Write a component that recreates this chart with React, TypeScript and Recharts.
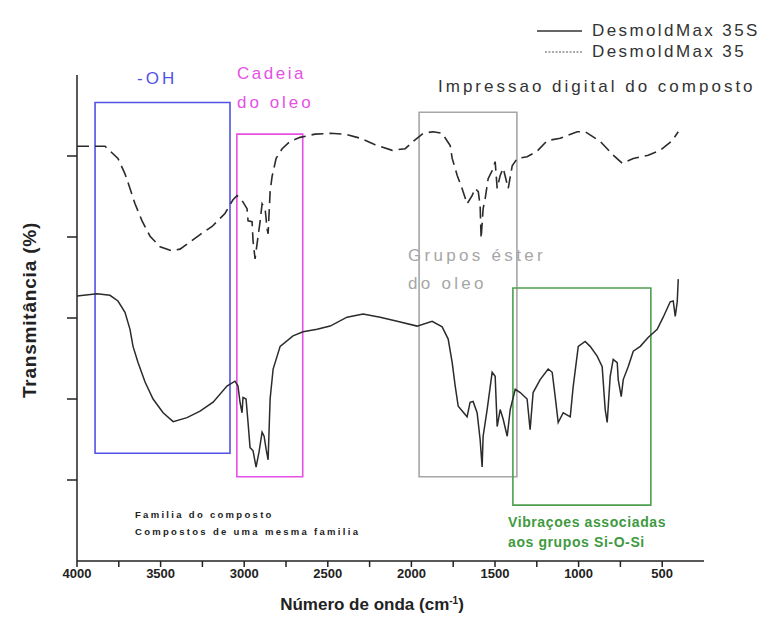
import { LineChart, Line, XAxis, YAxis, ReferenceArea } from "recharts";

const SERIES_35S = "DesmoldMax 35S";
const SERIES_35 = "DesmoldMax 35";

// DesmoldMax 35S (solid, lower trace)
const wavenumber35S = [4000, 3880, 3803, 3755, 3713, 3683, 3665, 3635, 3593, 3545, 3485, 3425, 3342, 3264, 3186, 3103, 3055, 3037, 3025, 3013, 3007, 2989, 2977, 2965, 2947, 2929, 2911, 2893, 2881, 2869, 2857, 2845, 2827, 2785, 2708, 2648, 2564, 2486, 2385, 2289, 2187, 2085, 1966, 1876, 1816, 1780, 1756, 1738, 1720, 1667, 1649, 1631, 1607, 1589, 1577, 1571, 1547, 1517, 1499, 1487, 1469, 1451, 1427, 1409, 1379, 1349, 1308, 1290, 1272, 1230, 1182, 1158, 1140, 1122, 1092, 1050, 1032, 1002, 961, 931, 889, 859, 841, 829, 811, 793, 769, 763, 745, 733, 703, 673, 631, 584, 530, 494, 452, 434, 422, 410, 404];
const transmittance35S = [32.7, 33.0, 32.8, 32.1, 30.7, 28.6, 26.5, 24.5, 22.1, 20.0, 18.3, 17.2, 17.7, 18.5, 19.6, 21.6, 22.2, 21.6, 19.6, 18.3, 20.2, 20.0, 17.1, 14.0, 13.6, 11.6, 13.5, 15.9, 15.4, 13.8, 12.5, 20.0, 23.7, 26.5, 27.8, 28.3, 28.6, 29.0, 30.1, 30.5, 30.1, 29.6, 29.0, 29.6, 28.9, 27.4, 24.5, 21.6, 19.1, 17.8, 19.6, 19.7, 18.3, 15.0, 11.6, 15.4, 18.7, 23.3, 22.8, 16.6, 18.7, 17.5, 15.4, 18.7, 21.2, 20.8, 20.0, 16.2, 20.8, 22.4, 23.7, 23.3, 20.3, 17.1, 18.3, 17.8, 21.6, 26.5, 27.1, 26.5, 25.3, 24.0, 18.7, 17.1, 22.8, 24.9, 24.5, 22.4, 20.3, 22.4, 24.0, 25.9, 26.5, 27.6, 28.6, 30.1, 32.0, 32.1, 30.2, 32.0, 34.8];

// DesmoldMax 35 (dashed, upper trace)
const wavenumber35 = [4000, 3832, 3755, 3713, 3683, 3653, 3611, 3563, 3503, 3432, 3384, 3324, 3264, 3192, 3115, 3067, 3043, 3013, 2983, 2977, 2953, 2947, 2935, 2917, 2905, 2893, 2875, 2863, 2857, 2845, 2833, 2809, 2773, 2726, 2666, 2576, 2486, 2397, 2307, 2217, 2115, 2037, 1990, 1930, 1870, 1816, 1768, 1756, 1726, 1697, 1667, 1637, 1619, 1600, 1589, 1583, 1571, 1559, 1541, 1517, 1499, 1487, 1469, 1451, 1421, 1397, 1367, 1308, 1248, 1188, 1110, 1008, 961, 871, 793, 739, 673, 584, 512, 440, 404];
const transmittance35 = [51.2, 51.2, 49.7, 47.8, 46.0, 44.1, 42.0, 40.1, 38.8, 38.3, 38.5, 39.4, 40.3, 41.3, 42.9, 44.6, 45.1, 44.5, 43.5, 42.0, 41.9, 39.5, 37.3, 40.1, 41.9, 44.1, 43.5, 41.0, 40.4, 45.6, 47.5, 49.7, 50.9, 51.8, 52.3, 52.7, 52.8, 52.7, 52.2, 51.4, 50.7, 50.9, 51.8, 52.8, 53.0, 52.8, 51.3, 49.7, 47.6, 46.0, 44.1, 45.1, 46.0, 45.6, 43.9, 39.8, 43.5, 44.7, 47.2, 48.2, 49.3, 46.0, 47.6, 48.5, 46.0, 48.8, 49.7, 49.9, 50.6, 51.9, 52.2, 53.0, 53.0, 51.8, 50.1, 49.1, 49.7, 50.1, 50.7, 51.9, 53.0];

const xTicks = [4000, 3750, 3500, 3250, 3000, 2750, 2500, 2250, 2000, 1750, 1500, 1250, 1000, 750, 500];
const yTicks = [10, 20, 30, 40, 50];

// highlighted regions: [wavenumber start, wavenumber end, T low, T high]
const regionOH = [3892, 3085, 13.3, 56.6];
const regionChain = [3044, 2650, 10.4, 52.7];
const regionEster = [1954, 1369, 10.4, 55.4];
const regionSiOSi = [1393, 568, 6.9, 33.7];

const FONT = '"Liberation Sans", Arial, sans-serif';

const toRows = (xs: number[], ys: number[]) =>
  xs.slice(0, Math.min(xs.length, ys.length)).map((wn, i) => ({ wn, t: ys[i] }));

const data35S = toRows(wavenumber35S, transmittance35S);
const data35 = toRows(wavenumber35, transmittance35);

function Note({ x, y, color = "#333", size = 17, weight = 400, spacing = 0, children }: any) {
  return (
    <div
      style={{
        position: "absolute",
        left: x,
        top: y,
        transform: "translateY(-50%)",
        color,
        fontSize: size,
        fontWeight: weight,
        letterSpacing: spacing,
        fontFamily: FONT,
        whiteSpace: "nowrap",
        lineHeight: 1,
      }}
    >
      {children}
    </div>
  );
}

export default function App() {
  const areas = [
    { r: regionOH, color: "#5252e6" },
    { r: regionChain, color: "#e650e6" },
    { r: regionEster, color: "#a6a6a6" },
    { r: regionSiOSi, color: "#4f9e4f" },
  ];
  return (
    <div style={{ position: "absolute", left: 0, top: 0, width: 778, height: 633, background: "#fff" }}>
      <LineChart width={778} height={633} margin={{ top: 75, right: 74, bottom: 42, left: 47 }}>
        <XAxis
          type="number"
          dataKey="wn"
          domain={[250, 4000]}
          reversed
          ticks={xTicks}
          interval={0}
          tickSize={6}
          tickFormatter={(v: number) => (v % 500 === 0 ? String(v) : "")}
          tick={{ fill: "#222", fontSize: 13, fontWeight: 700, fontFamily: FONT }}
          stroke="#222"
          strokeWidth={1.5}
          height={30}
          allowDataOverflow
        />
        <YAxis
          type="number"
          domain={[0, 60]}
          ticks={yTicks}
          interval={0}
          tickSize={10}
          tickFormatter={() => ""}
          stroke="#222"
          strokeWidth={1.5}
          width={30}
          allowDataOverflow
        />
        {areas.map((a, i) => (
          <ReferenceArea
            key={i}
            x1={a.r[0]}
            x2={a.r[1]}
            y1={a.r[2]}
            y2={a.r[3]}
            fill="none"
            fillOpacity={0}
            stroke={a.color}
            strokeWidth={1.6}
            ifOverflow="visible"
          />
        ))}
        <Line
          data={data35}
          dataKey="t"
          name={SERIES_35}
          type="linear"
          stroke="#2b2b2b"
          strokeWidth={1.6}
          strokeDasharray="12 6"
          dot={false}
          isAnimationActive={false}
        />
        <Line
          data={data35S}
          dataKey="t"
          name={SERIES_35S}
          type="linear"
          stroke="#2b2b2b"
          strokeWidth={1.5}
          dot={false}
          isAnimationActive={false}
        />
      </LineChart>

      {/* legend */}
      <div style={{ position: "absolute", left: 537, top: 20 }}>
        <div style={{ display: "flex", alignItems: "center", height: 21 }}>
          <svg width={48} height={6}><line x1={0} y1={3} x2={45} y2={3} stroke="#333" strokeWidth={1.5} /></svg>
          <span style={{ fontFamily: FONT, fontSize: 17, letterSpacing: 2.4, color: "#333", marginLeft: 7 }}>{SERIES_35S}</span>
        </div>
        <div style={{ display: "flex", alignItems: "center", height: 21 }}>
          <svg width={48} height={6}><line x1={8} y1={3} x2={45} y2={3} stroke="#555" strokeWidth={1} strokeDasharray="2 1.5" /></svg>
          <span style={{ fontFamily: FONT, fontSize: 17, letterSpacing: 2.4, color: "#333", marginLeft: 7 }}>{SERIES_35}</span>
        </div>
      </div>

      <Note x={137} y={78} color="#5252e6" spacing={3}>-OH</Note>
      <Note x={237} y={73} color="#e650e6" spacing={2.5}>Cadeia</Note>
      <Note x={237} y={102} color="#e650e6" spacing={3}>do oleo</Note>
      <Note x={438} y={86} color="#333" spacing={3}>Impressao digital do composto</Note>
      <Note x={408} y={255} color="#a6a6a6" spacing={3.3}>Grupos éster</Note>
      <Note x={408} y={283} color="#a6a6a6" spacing={3.3}>do oleo</Note>
      <Note x={135} y={515} color="#222" size={9.5} weight={700} spacing={2.3}>Familia do composto</Note>
      <Note x={135} y={532} color="#222" size={9.5} weight={700} spacing={2.3}>Compostos de uma mesma familia</Note>
      <Note x={508} y={522} color="#3f9a3f" size={14} weight={700} spacing={0.6}>Vibraçoes associadas</Note>
      <Note x={508} y={542} color="#3f9a3f" size={14} weight={700} spacing={0.6}>aos grupos Si-O-Si</Note>

      {/* axis titles */}
      <div
        style={{
          position: "absolute",
          left: 30,
          top: 310,
          transform: "translate(-50%, -50%) rotate(-90deg)",
          fontFamily: FONT,
          fontWeight: 700,
          fontSize: 19,
          letterSpacing: 0.8,
          color: "#222",
          whiteSpace: "nowrap",
        }}
      >
        Transmitância (%)
      </div>
      <div
        style={{
          position: "absolute",
          left: 372,
          top: 605,
          transform: "translate(-50%, -50%)",
          fontFamily: FONT,
          fontWeight: 700,
          fontSize: 17,
          color: "#222",
          whiteSpace: "nowrap",
        }}
      >
        Número de onda (cm<sup style={{ fontSize: 10 }}>-1</sup>)
      </div>
    </div>
  );
}
